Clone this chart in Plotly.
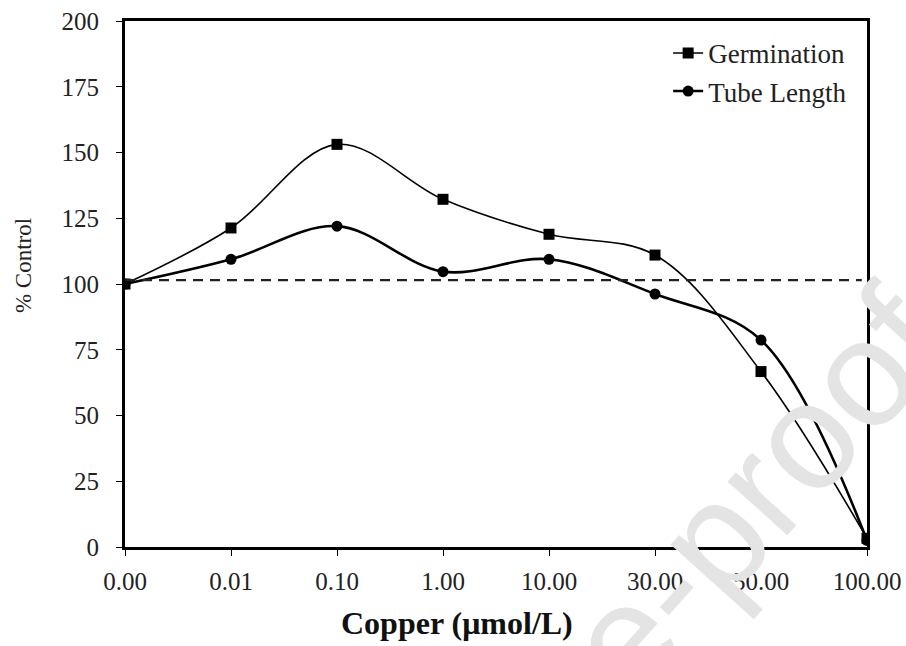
import plotly.graph_objects as go

categories = ["0.00", "0.01", "0.10", "1.00", "10.00", "30.00", "50.00", "100.00"]
germination = [100, 121.3, 153.1, 132.2, 118.9, 111.0, 66.7, 3.3]
tube_length = [100, 109.4, 122.0, 104.7, 109.4, 96.2, 78.7, 2.5]
control_level = 101.5
y_ticks = [0, 25, 50, 75, 100, 125, 150, 175, 200]

SERIF = "Liberation Serif, Times New Roman, serif"

fig = go.Figure()
fig.add_trace(go.Scatter(
    x=categories, y=germination, name="Germination",
    mode="lines+markers",
    line=dict(color="black", width=1.6, shape="spline", smoothing=1.0),
    marker=dict(symbol="square", size=11, color="black"),
))
fig.add_trace(go.Scatter(
    x=categories, y=tube_length, name="Tube Length",
    mode="lines+markers",
    line=dict(color="black", width=2.6, shape="spline", smoothing=1.0),
    marker=dict(symbol="circle", size=11, color="black"),
))

fig.add_shape(type="line", xref="paper", yref="y", x0=0, x1=0.993,
              y0=control_level, y1=control_level,
              line=dict(color="#222222", width=2.2, dash="10px,7px"))

fig.add_annotation(text="% Control", xref="paper", yref="paper",
                   x=-0.1375, y=0.536, showarrow=False, textangle=-90,
                   xanchor="center", yanchor="middle",
                   font=dict(family=SERIF, size=23, color="#222222"))

fig.add_annotation(text="<b>Copper (\u03bcmol/L)</b>", xref="paper", yref="paper",
                   x=0.4474, y=-0.1445, showarrow=False,
                   xanchor="center", yanchor="middle",
                   font=dict(family=SERIF, size=32, color="#111111"))

fig.add_annotation(text="Journal Pre-proof", xref="paper", yref="paper",
                   x=0.5368, y=-0.3843, showarrow=False, textangle=-48,
                   xanchor="center", yanchor="middle",
                   font=dict(family="Liberation Sans, Arial, sans-serif", size=152, color="#e4e4e4"))

fig.update_layout(
    width=906, height=646, autosize=False,
    margin=dict(l=125, r=39, t=21, b=99),
    paper_bgcolor="white", plot_bgcolor="white",
    font=dict(family=SERIF, color="#222222"),
    showlegend=True,
    legend=dict(x=0.732, y=0.985, xanchor="left", yanchor="top",
                bgcolor="rgba(0,0,0,0)", font=dict(family=SERIF, size=27, color="#222222"),
                itemwidth=30, tracegroupgap=0),
    xaxis=dict(
        type="category", categoryorder="array", categoryarray=categories,
        range=[0, len(categories) - 1], automargin=False,
        showline=True, linecolor="black", linewidth=3, mirror=True,
        ticks="outside", ticklen=6, tickwidth=1.2, tickcolor="black",
        showgrid=False, zeroline=False,
        tickfont=dict(family=SERIF, size=25, color="#222222"),
        ticklabelstandoff=4,
    ),
    yaxis=dict(
        range=[0, 200], tickmode="array", tickvals=y_ticks, automargin=False,
        showline=True, linecolor="black", linewidth=3, mirror=True,
        ticks="outside", ticklen=6, tickwidth=1.2, tickcolor="black",
        showgrid=False, zeroline=False,
        tickfont=dict(family=SERIF, size=25, color="#222222"),
        ticklabelstandoff=12,
    ),
)

fig.write_html("out.html")
